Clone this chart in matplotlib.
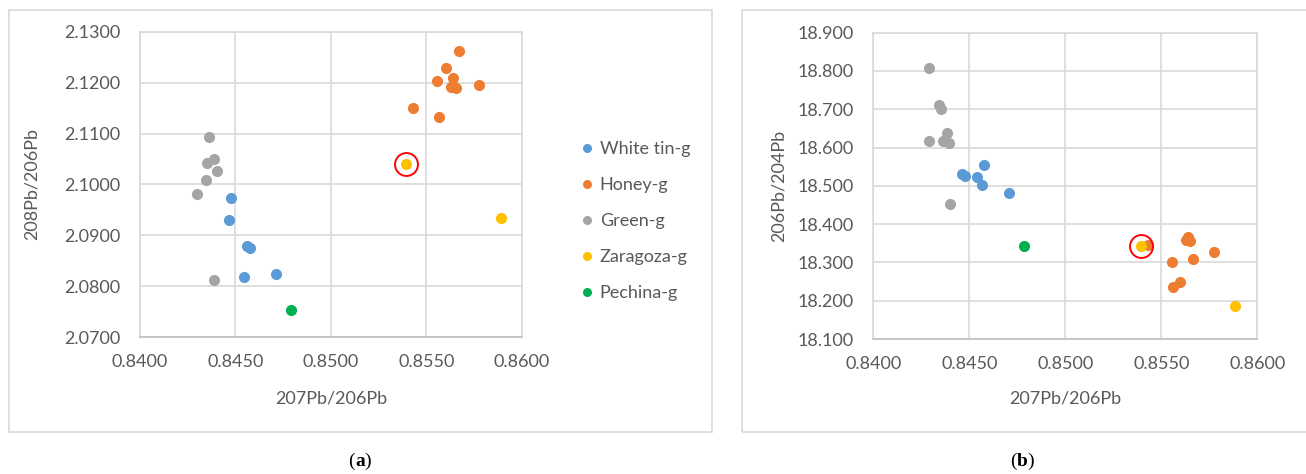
import matplotlib.pyplot as plt
from matplotlib.patches import Rectangle
from matplotlib.lines import Line2D

plt.rcParams['font.family'] = ['Lato', 'DejaVu Sans']

# 207Pb/206Pb vs 208Pb/206Pb (panel a)
a_white_x = [0.84476, 0.84466, 0.84562, 0.84576, 0.84545, 0.84712]
a_white_y = [2.0973, 2.0931, 2.0880, 2.0875, 2.0818, 2.0825]
a_honey_x = [0.85669, 0.85602, 0.85557, 0.85640, 0.85632, 0.85654, 0.85776, 0.85433, 0.85565]
a_honey_y = [2.1262, 2.1229, 2.1203, 2.1209, 2.1192, 2.1190, 2.1196, 2.1150, 2.1133]
a_green_x = [0.84363, 0.84352, 0.84389, 0.84401, 0.84346, 0.84297, 0.84389]
a_green_y = [2.1093, 2.1043, 2.1050, 2.1026, 2.1008, 2.0982, 2.0813]
a_zara_x = [0.85396, 0.85890]
a_zara_y = [2.1041, 2.0935]
a_pech_x = [0.84791]
a_pech_y = [2.0754]

# 207Pb/206Pb vs 206Pb/204Pb (panel b)
b_white_x = [0.84577, 0.84464, 0.84478, 0.84542, 0.84568, 0.84708]
b_white_y = [18.555, 18.530, 18.527, 18.523, 18.503, 18.481]
b_honey_x = [0.85432, 0.85638, 0.85650, 0.85629, 0.85775, 0.85667, 0.85556, 0.85599, 0.85563]
b_honey_y = [18.346, 18.367, 18.355, 18.359, 18.327, 18.310, 18.300, 18.249, 18.235]
b_green_x = [0.84292, 0.84342, 0.84354, 0.84385, 0.84292, 0.84361, 0.84393, 0.84399]
b_green_y = [18.809, 18.711, 18.700, 18.637, 18.617, 18.617, 18.613, 18.452]
b_zara_x = [0.85393, 0.85885]
b_zara_y = [18.344, 18.186]
b_pech_x = [0.84786]
b_pech_y = [18.342]

labels = ['White tin-g', 'Honey-g', 'Green-g', 'Zaragoza-g', 'Pechina-g']
colors = ['#5B9BD5', '#ED7D31', '#A5A5A5', '#FFC000', '#00B050']
text_col = '#595959'
grid_col = '#d9d9d9'
fs = 13

fig = plt.figure(figsize=(13.06, 4.74), dpi=100)

# panel frames
fig.patches.append(Rectangle((9 / 1306, 1 - 432 / 474), 703 / 1306, 422 / 474,
                             transform=fig.transFigure, fill=False,
                             edgecolor=grid_col, lw=1.2))
fig.patches.append(Rectangle((742 / 1306, 1 - 432 / 474), 570 / 1306, 422 / 474,
                             transform=fig.transFigure, fill=False,
                             edgecolor=grid_col, lw=1.2))

ax1 = fig.add_axes([140 / 1306, 1 - 337.3 / 474, 381.7 / 1306, 305.6 / 474])
ax2 = fig.add_axes([873.3 / 1306, 1 - 339 / 474, 384 / 1306, 306.3 / 474])


def draw(ax, series, ring, ylim, yticks, yfmt, ylabel, ylab_x, xlab_y):
    for (xs, ys), c in zip(series, colors):
        ax.plot(xs, ys, 'o', color=c, ms=8, mec='none', zorder=3)
    # highlight ring around the Zaragoza sample
    ax.plot([ring[0]], [ring[1]], 'o', mfc='none', mec='#FF0000', ms=16.5, mew=1.4, zorder=4)
    ax.set_xlim(0.84, 0.86)
    ax.set_ylim(*ylim)
    ax.set_xticks([0.84, 0.845, 0.85, 0.855, 0.86])
    ax.set_xticklabels(['0.8400', '0.8450', '0.8500', '0.8550', '0.8600'])
    ax.set_yticks(yticks)
    ax.set_yticklabels([yfmt.format(v) for v in yticks])
    ax.grid(True, color=grid_col, lw=1.2)
    ax.set_axisbelow(True)
    for s in ax.spines.values():
        s.set_color(grid_col)
        s.set_linewidth(1.2)
    ax.spines['bottom'].set_color('#bfbfbf')
    ax.tick_params(length=0, labelsize=fs, labelcolor=text_col, pad=12)
    ax.tick_params(axis='y', pad=14)
    ax.set_xlabel('207Pb/206Pb', fontsize=fs, color=text_col)
    ax.set_ylabel(ylabel, fontsize=fs, color=text_col)
    ax.xaxis.set_label_coords(0.5, xlab_y)
    ax.yaxis.set_label_coords(ylab_x, 0.5)


draw(ax1,
     [(a_white_x, a_white_y), (a_honey_x, a_honey_y), (a_green_x, a_green_y),
      (a_zara_x, a_zara_y), (a_pech_x, a_pech_y)],
     (a_zara_x[0], a_zara_y[0]), (2.07, 2.13),
     [2.07, 2.08, 2.09, 2.10, 2.11, 2.12, 2.13], '{:.4f}', '208Pb/206Pb', -0.262, -0.174)

draw(ax2,
     [(b_white_x, b_white_y), (b_honey_x, b_honey_y), (b_green_x, b_green_y),
      (b_zara_x, b_zara_y), (b_pech_x, b_pech_y)],
     (b_zara_x[0], b_zara_y[0]), (18.1, 18.9),
     [18.1, 18.2, 18.3, 18.4, 18.5, 18.6, 18.7, 18.8, 18.9], '{:.3f}', '206Pb/204Pb', -0.225, -0.168)

handles = [Line2D([], [], ls='none', marker='o', color=c, mec='none', ms=6.5) for c in colors]
leg = fig.legend(handles, labels, loc='center left', bbox_to_anchor=(580 / 1306, 1 - 221 / 474),
                 frameon=False, fontsize=fs, handlelength=0.8, handletextpad=0.3,
                 labelspacing=1.11, borderpad=0, borderaxespad=0)
for t in leg.get_texts():
    t.set_color(text_col)

# panel captions
cap = dict(fontsize=14, family='Liberation Serif', va='center')
cy = 1 - 461 / 474
fig.text(355 / 1306, cy, '(', ha='right', **cap)
fig.text(355 / 1306, cy, 'a', ha='left', weight='bold', **cap)
fig.text(364.5 / 1306, cy, ')', ha='left', **cap)
fig.text(1016.5 / 1306, cy, '(', ha='right', **cap)
fig.text(1016.5 / 1306, cy, 'b', ha='left', weight='bold', **cap)
fig.text(1027 / 1306, cy, ')', ha='left', **cap)

fig.savefig('out.png', dpi=100)
